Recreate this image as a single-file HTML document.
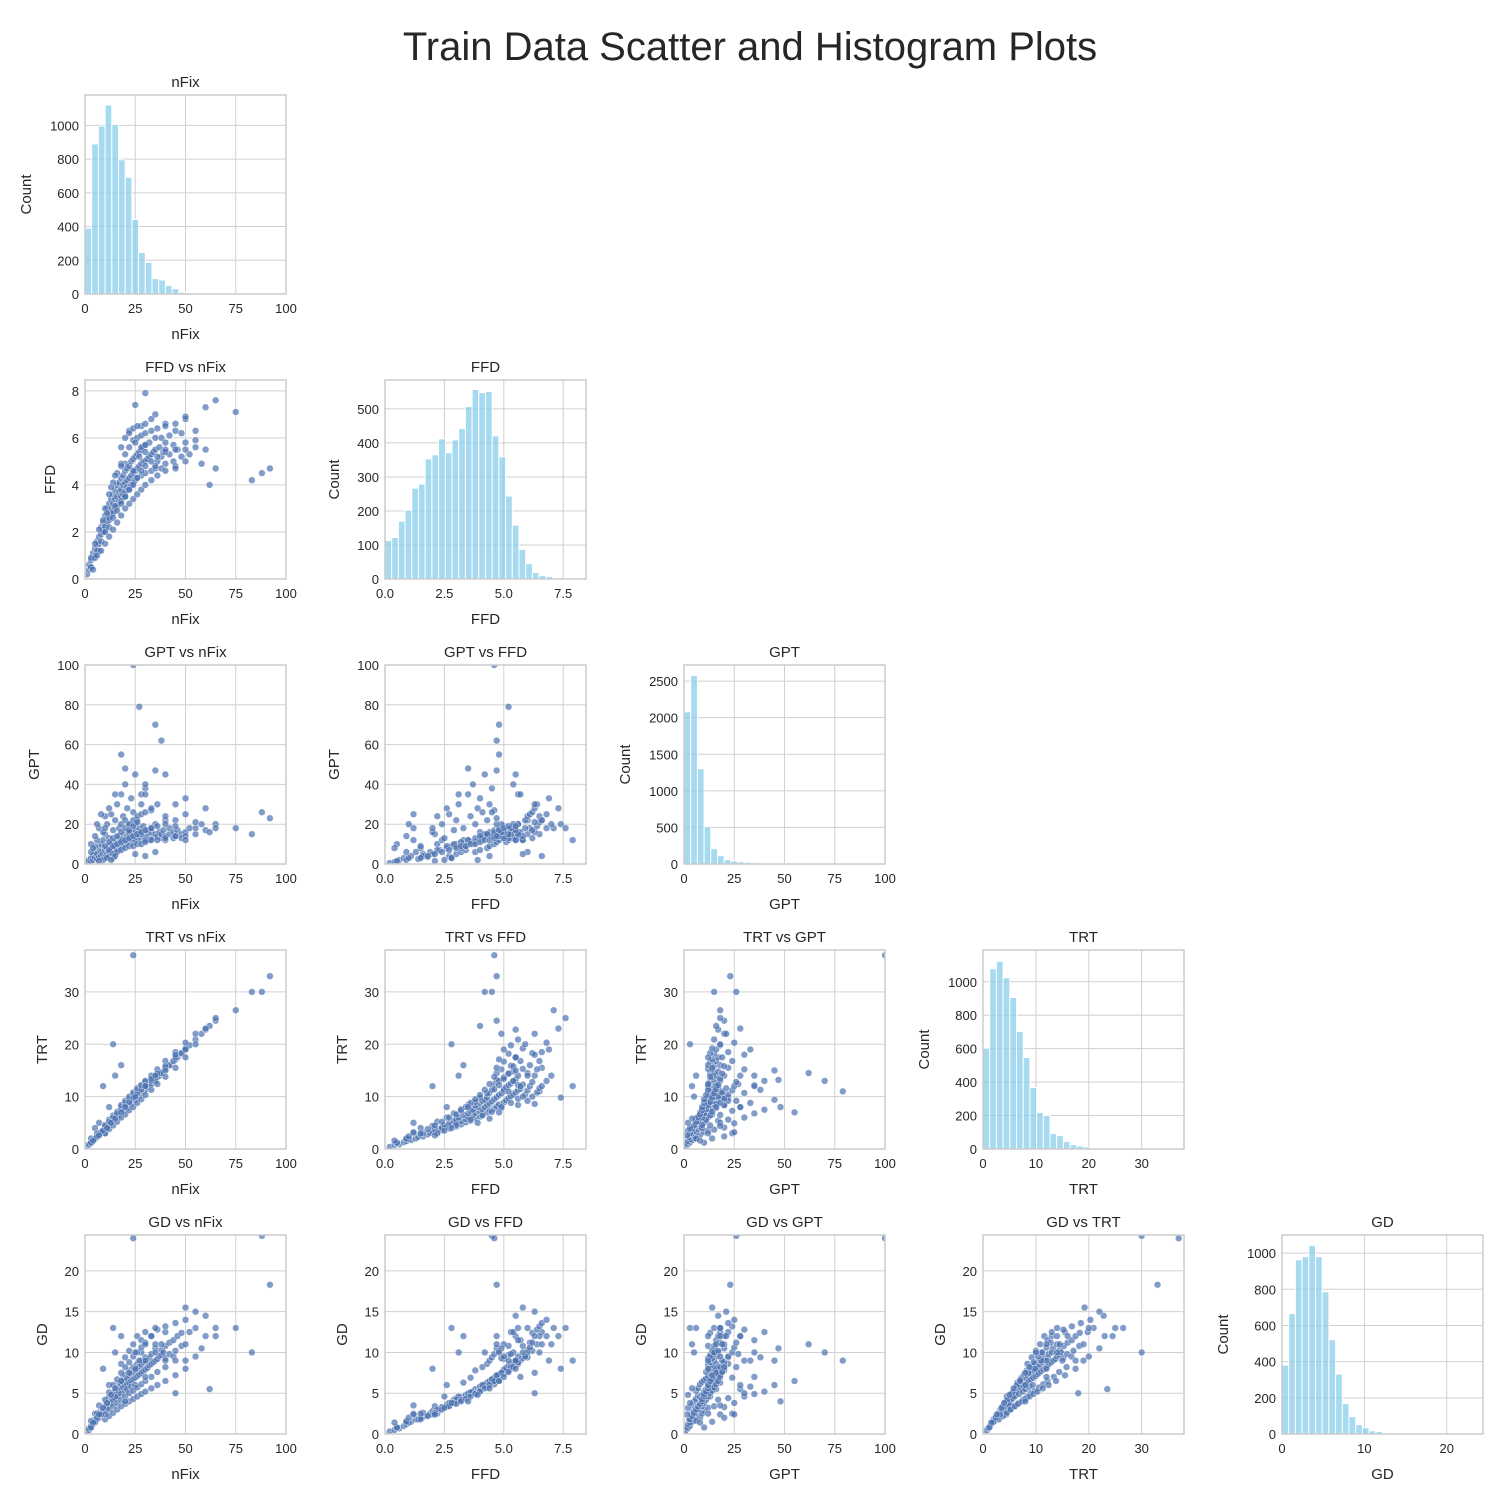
<!DOCTYPE html>
<html><head><meta charset="utf-8">
<style>
body{margin:0;background:#fff;}
svg text{font-family:"Liberation Sans",Arial,sans-serif;fill:#262626;}
</style></head>
<body>
<svg id="chart" width="1500" height="1500" viewBox="0 0 1500 1500" xmlns="http://www.w3.org/2000/svg">
<rect width="1500" height="1500" fill="#fff"/>
<text x="750" y="60" font-size="40" text-anchor="middle">Train Data Scatter and Histogram Plots</text>
</svg>
<script>
// Variable names, axis ranges and ticks
const varNames = ["nFix","FFD","GPT","TRT","GD"];
const axisMax = [100, 8.46, 100, 38, 24.4];
const axisTicks = [[0,25,50,75,100],[0,2.5,5,7.5],[0,25,50,75,100],[0,10,20,30],[0,10,20]];
const axisTickLabels = [["0","25","50","75","100"],["0.0","2.5","5.0","7.5"],["0","25","50","75","100"],["0","10","20","30"],["0","10","20"]];
const yTicks = [[0,25,50,75,100],[0,2,4,6,8],[0,20,40,60,80,100],[0,10,20,30],[0,5,10,15,20]];
// Histogram counts (30 bins from 0 to axis max)
const histNFix = [390,890,996,1121,1004,796,692,442,246,187,91,83,50,32,10,8,3,2,1,1,1,0,1,0,0,1,0,1,0,0];
const histFFD = [113,122,170,202,267,279,353,365,412,371,409,442,507,557,548,551,421,359,244,158,87,45,19,10,7,0,0,1,0,1];
const histGPT = [2081,2577,1302,510,209,114,59,41,32,23,18,8,6,4,3,2,2,1,1,1,1,0,1,0,1,0,0,0,0,1];
const histTRT = [603,1078,1122,1024,906,703,547,367,218,200,92,80,44,26,18,12,3,2,1,1,1,0,1,0,1,0,0,0,0,0];
const histGD = [381,665,963,980,1042,980,786,521,331,168,96,52,35,18,13,4,2,1,1,0,1,0,0,0,0,0,0,0,0,1];
const histCounts = [histNFix,histFFD,histGPT,histTRT,histGD];
const countTicks = [[0,200,400,600,800,1000],[0,100,200,300,400,500],[0,500,1000,1500,2000,2500],[0,200,400,600,800,1000],[0,200,400,600,800,1000]];
const countMax = [1180,585,2720,1190,1100];
// Record-level data (set A)
const nFixA = [1,2,2,3,3,4,4,5,5,6,6,7,7,8,8,8,9,9,10,10,10,11,11,11,12,12,12,13,13,13,14,14,14,15,15,15,16,16,16,17,17,17,18,18,18,19,19,19,20,20,20,20,21,21,21,22,22,22,23,23,23,24,24,24,25,25,25,26,26,26,27,27,28,28,28,29,29,30,30,30,31,32,32,33,33,34,35,35,36,37,38,38,39,40,40,42,42,44,44,45,46,48,48,50,50,52,55,58,60,62,65,75,83,88,92,30,25,28,33,22,35,40,27,35,38,24,5,3,7,12,15,18,10,14,9,6];
const FFDA = [0.2,0.4,0.6,0.5,0.8,0.9,1.1,1.0,1.3,1.4,1.6,1.5,1.8,1.9,2.2,1.6,2.0,2.4,2.3,2.7,2.1,2.6,3.0,2.4,2.8,3.2,2.5,3.0,3.4,2.7,3.2,3.6,2.9,3.4,3.8,3.0,3.5,4.0,3.1,3.7,4.1,3.3,3.8,4.3,3.5,4.0,4.4,3.6,4.1,4.6,3.7,4.9,4.2,4.7,3.9,4.3,4.8,3.8,4.4,5.0,4.0,4.5,5.1,4.1,4.6,5.2,4.2,4.7,5.3,4.3,4.8,5.4,4.9,5.5,4.4,5.0,5.6,5.0,5.7,4.5,5.1,5.2,5.8,5.3,4.6,5.4,5.5,4.7,5.0,5.6,5.2,6.0,5.4,4.9,5.8,5.3,6.1,5.0,5.7,4.8,5.5,5.2,6.2,5.0,5.8,5.3,5.6,4.9,5.5,4.0,4.7,7.1,4.2,4.5,4.7,7.9,7.4,6.5,6.8,6.3,7.0,6.6,5.2,4.8,4.7,4.6,1.5,0.9,1.2,2.6,3.1,3.3,2.2,2.8,2.0,1.2];
const GPTA = [0.5,1,2,1.5,3,2,4,3,6,2.5,5,8,3.5,6,10,4,5,12,7,4,15,8,5,20,9,6,13,10,7,25,8,11,17,9,6,22,12,7,30,10,14,18,11,8,35,13,9,24,12,10,40,16,14,11,28,15,12,20,16,13,33,14,11,26,17,12,45,15,13,22,18,14,16,12,30,19,14,15,13,38,17,14,12,16,27,13,15,47,14,16,13,15,17,14,12,15,18,13,16,14,17,15,13,16,14,18,15,20,17,16,20,18,15,26,23,12,20,15,18,16,20,22,79,70,62,100,9,6,18,28,35,12,24,3,16,12];
const TRTA = [0.4,0.8,0.9,1.1,1.3,1.5,1.7,1.9,2.0,2.3,2.4,2.7,2.8,3.1,3.2,3.0,3.4,3.6,3.8,3.9,3.7,4.2,4.3,4.1,4.6,4.7,4.5,5.0,5.1,4.9,5.3,5.4,5.4,5.7,5.9,5.6,6.1,6.2,6.0,6.4,6.6,6.5,6.9,7.0,6.8,7.2,7.4,7.3,7.6,7.7,7.5,7.8,8.0,8.1,8.0,8.4,8.5,8.3,8.7,8.9,8.8,9.1,9.3,9.2,9.5,9.7,9.4,9.9,10.1,9.8,10.3,10.4,10.6,10.8,10.7,11.0,11.2,11.4,11.5,11.3,11.8,12.2,12.3,12.5,12.4,12.9,13.3,13.2,13.7,14.0,14.4,14.5,14.8,15.2,15.3,15.9,16.0,16.7,16.8,17.1,17.5,18.2,18.3,19.0,19.2,19.8,20.9,22.0,22.8,23.5,24.5,26.5,30.0,30.0,33.0,12,9.8,11,13,8.6,14,15.5,11,13,14.5,37,4,2,5,8,14,16,3,20,12,3];
const GDA = [0.3,0.5,0.7,0.8,1.0,1.2,1.5,1.4,1.8,1.8,2.1,2.0,2.3,2.5,2.9,2.6,2.8,3.2,3.0,3.5,3.4,3.6,4.0,3.3,3.9,4.3,4.6,4.1,4.7,3.8,4.5,5.0,4.2,4.8,5.3,4.4,5.0,5.6,4.6,5.2,5.8,6.3,5.5,6.1,4.9,5.7,6.4,6.9,5.9,6.6,5.2,7.3,6.1,6.8,5.5,6.3,7.1,7.8,6.5,7.4,5.8,6.7,7.6,8.2,6.9,7.8,6.0,7.1,8.0,8.6,7.3,8.3,7.5,8.5,9.0,7.7,8.8,7.9,9.0,9.4,8.1,8.4,9.3,8.6,9.8,8.8,9.0,10.5,9.2,9.5,9.7,10.3,10.0,9.3,10.8,9.8,11.2,9.5,11.5,10.2,12.0,10.8,12.4,11.0,15.5,12.5,13.0,10.5,14.5,5.5,12.0,13.0,10.0,24.3,18.3,9,8,10,12,7.5,11,12.5,9,10,11,24,2.5,1.6,3.5,6,10,12,2.5,13,8,2.5];
// Record-level data (set B, spreads the clouds)
const nFixB = [10,10,10,12,12,12,14,14,14,16,16,16,18,18,18,18,20,20,20,20,22,22,22,22,24,24,24,24,26,26,26,26,28,28,28,28,30,30,30,30,33,33,33,36,36,36,40,40,40,45,45,45,50,50,55,55,3,5,6,4,8,9,7,11,15,13,35,30,25,40,20,30,45,50,60,65,18];
const FFDB = [1.5,3.0,2.0,1.8,3.6,2.2,2.1,4.1,2.6,2.4,4.5,2.9,2.7,4.9,3.2,5.6,3.0,5.3,3.5,6.0,3.2,5.6,3.8,6.2,3.4,5.9,4.0,6.4,3.6,6.0,4.3,6.5,3.8,6.1,4.6,5.6,4.0,6.2,4.8,5.4,4.2,6.3,5.0,4.4,6.4,5.2,4.6,6.5,5.4,4.7,6.6,5.5,5.5,6.8,5.9,6.3,0.5,0.9,1.0,0.4,1.2,2.5,2.1,2.8,4.4,3.9,6.0,6.6,5.8,5.5,3.5,5.7,6.3,6.9,7.3,7.6,4.8];
const GPTB = [3,9,18,4,11,7,5,13,9,6,14,10,7,16,11,20,8,18,12,22,9,20,13,17,9,22,14,19,10,24,15,21,10,25,16,35,11,26,17,40,12,28,18,12,30,19,13,24,20,14,22,19,12,25,18,21,10,14,20,8,25,2,1.5,3,4,2,6,4,5,45,48,35,30,33,28,18,55];
const TRTB = [3.0,4.6,4.4,3.8,5.6,5.2,4.5,6.4,6.0,5.2,7.1,6.8,6.0,8.0,7.6,8.4,6.6,8.8,8.4,9.2,7.4,9.6,9.0,10.0,8.0,10.4,9.8,10.8,8.8,11.2,10.6,11.6,9.5,12.0,11.4,12.2,10.3,12.8,12.2,13.0,11.3,14.0,13.4,12.4,15.2,14.4,13.8,16.8,15.8,15.5,18.5,17.5,17.5,20.3,20.0,22,1.2,2.0,2.4,1.6,3.2,3.5,2.6,4.0,5.8,5.0,14,12,10,15,8,12,18,19,23,25,7];
const GDB = [1.8,4.2,2.4,2.2,5.1,3.0,2.6,6.0,3.4,3.0,6.7,3.8,3.4,7.5,4.2,8.6,3.7,8.2,4.6,9.4,4.0,8.8,5.0,10.2,4.3,9.5,5.3,11.0,4.6,10.0,5.7,12.0,4.9,10.6,6.1,11.5,5.2,11.2,6.5,12.5,5.6,12.0,7.0,6.0,12.8,7.6,6.5,13.2,8.2,7.2,13.6,9.0,8.0,14.0,9.5,15.0,0.8,1.5,2.0,1.4,2.4,3.2,2.4,3.8,5.6,4.8,13,11,10,9,4,7,5,9,12,13,6.5];
const nFix = nFixA.concat(nFixB);
const FFD = FFDA.concat(FFDB);
const GPT = GPTA.concat(GPTB);
const TRT = TRTA.concat(TRTB);
const GD = GDA.concat(GDB);
const dataCols = [nFix,FFD,GPT,TRT,GD];

const lefts = [85,385,684,983,1282];
const tops = [95,380,665,950,1235];
const W = 201, H = 199;
const NS = "http://www.w3.org/2000/svg";
const svg = document.getElementById("chart");
function el(tag, attrs, parent){
  const e = document.createElementNS(NS, tag);
  for (const k in attrs) e.setAttribute(k, attrs[k]);
  (parent||svg).appendChild(e);
  return e;
}
function fmt(v){ return String(v); }

for (let r = 0; r < 5; r++) {
  for (let c = 0; c <= r; c++) {
    const L = lefts[c], T = tops[r];
    const g = el("g", {});
    
    
    const isHist = r === c;
    const xMax = axisMax[c];
    const yMax = isHist ? countMax[r] : axisMax[r];
    const xs = v => L + v / xMax * W;
    const ys = v => T + H - v / yMax * H;
    axisTicks[c].forEach((t, i) => {
      const x = xs(t);
      const gl = el("line", {x1:x, x2:x, y1:T, y2:T+H, stroke:"#d0d0d0", "stroke-width":1}, g);
      
      
      const tl = el("text", {x:x, y:T+H+19, "font-size":13, "text-anchor":"middle"}, g);
      tl.textContent = axisTickLabels[c][i];
      
      
    });
    const yt = isHist ? countTicks[r] : yTicks[r];
    let maxLen = 0;
    yt.forEach(t => {
      const y = ys(t);
      const gl = el("line", {x1:L, x2:L+W, y1:y, y2:y, stroke:"#d0d0d0", "stroke-width":1}, g);
      
      
      const tl = el("text", {x:L-6, y:y+5, "font-size":13, "text-anchor":"end"}, g);
      tl.textContent = fmt(t);
      maxLen = Math.max(maxLen, fmt(t).length);
      
      
    });
    const clipId = "clip" + r + c;
    const cp = el("clipPath", {id:clipId}, g);
    el("rect", {x:L, y:T, width:W, height:H}, cp);
    const marks = el("g", {"clip-path":"url(#"+clipId+")"}, g);
    if (isHist) {
      const counts = histCounts[r];
      const bw = xMax / counts.length;
      counts.forEach((n, i) => {
        if (n <= 0) return;
        const b = el("rect", {x:xs(i*bw), y:ys(n), width:xs(bw)-L, height:T+H-ys(n),
          fill:"#87ceeb", "fill-opacity":0.75, stroke:"#fff", "stroke-width":1}, marks);
        
        
      });
    } else {
      const xd = dataCols[c], yd = dataCols[r];
      for (let i = 0; i < xd.length; i++) {
        const p = el("circle", {cx:xs(xd[i]), cy:ys(yd[i]), r:3.4, fill:"#4c72b0", "fill-opacity":0.7, stroke:"#fff", "stroke-width":0.4}, marks);
        
        
      }
    }
    const fr = el("rect", {x:L, y:T, width:W, height:H, fill:"none", stroke:"#cccccc", "stroke-width":1.5}, g);
    
    
    const ti = el("text", {x:L+W/2, y:T-8, "font-size":15, "text-anchor":"middle"}, g);
    ti.textContent = isHist ? varNames[r] : (varNames[r] + " vs " + varNames[c]);
    
    
    const xl = el("text", {x:L+W/2, y:T+H+45, "font-size":15, "text-anchor":"middle"}, g);
    xl.textContent = varNames[c];
    
    
    const yx = L - (8*maxLen + 27);
    const yl = el("text", {x:yx, y:T+H/2, "font-size":15, "text-anchor":"middle", transform:"rotate(-90 "+yx+" "+(T+H/2)+")", dy:"5"}, g);
    yl.textContent = isHist ? "Count" : varNames[r];
    
    
  }
}
</script>
</body></html>
